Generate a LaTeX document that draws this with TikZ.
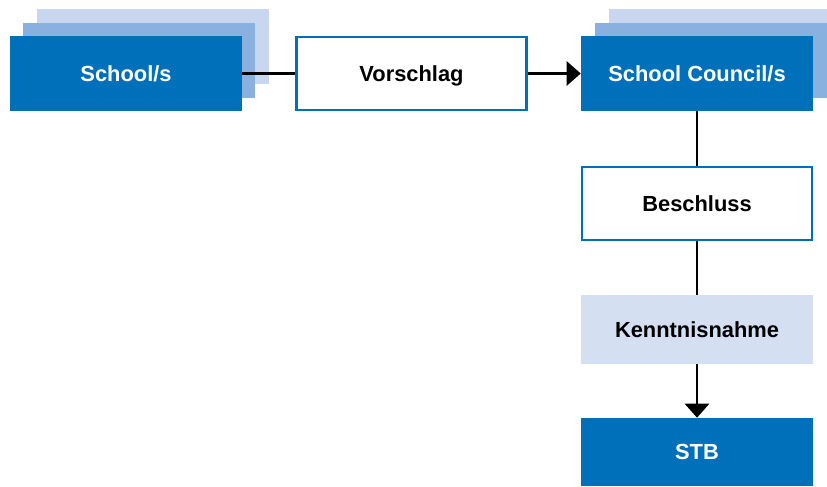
\documentclass[tikz,border=0pt]{standalone}
\usepackage{fontspec}
\setmainfont{Liberation Sans}
\usetikzlibrary{arrows.meta}
\definecolor{darkblue}{HTML}{0070BA}
\definecolor{midblue}{HTML}{89B0DF}
\definecolor{paleblue}{HTML}{C8D7EF}
\definecolor{noteblue}{HTML}{D4DFF1}
\tikzset{
  box/.style={minimum width=232*0.75pt, minimum height=75*0.75pt, inner sep=0pt,
    text height=11.8pt, text depth=0pt,
    font=\fontsize{16.4pt}{18pt}\selectfont\bfseries},
  solidbox/.style={box, fill=darkblue, text=white},
  outlinebox/.style={box, draw=darkblue, line width=1.8pt, fill=white, minimum width=230*0.75pt, minimum height=73*0.75pt},
  notebox/.style={box, fill=noteblue, minimum height=69*0.75pt},
  layer/.style={fill=#1},
  link/.style={line width=2pt, black},
  arrowlink/.style={link, -{Triangle[width=18pt, length=10.5pt]}}
}
\begin{document}
\begin{tikzpicture}[x=0.75pt, y=-0.75pt]
  \useasboundingbox (0,0) rectangle (827,486);
  % stacked layers behind the school boxes
  \fill[layer=paleblue] (37,9) rectangle (269,84);
  \fill[layer=midblue] (23,23) rectangle (255,98);
  \fill[layer=paleblue] (609,9) rectangle (827,84);
  \fill[layer=midblue] (595,23) rectangle (827,98);
  % main boxes
  \node[solidbox] (school) at (126,73.5) {School/s};
  \node[outlinebox] (vorschlag) at (411.5,73.5) {Vorschlag};
  \node[solidbox] (council) at (697,73.5) {School Council/s};
  \node[outlinebox] (beschluss) at (697,203.5) {Beschluss};
  \node[notebox] (kenntnis) at (697,329.5) {Kenntnisnahme};
  \node[solidbox, minimum height=68*0.75pt] (stb) at (697,452) {STB};
  % connectors
  \draw[link] (school) -- (vorschlag);
  \draw[arrowlink] (vorschlag) -- (council);
  \draw[link] (council) -- (beschluss);
  \draw[link] (beschluss) -- (kenntnis);
  \draw[arrowlink] (kenntnis) -- (stb);
\end{tikzpicture}
\end{document}
